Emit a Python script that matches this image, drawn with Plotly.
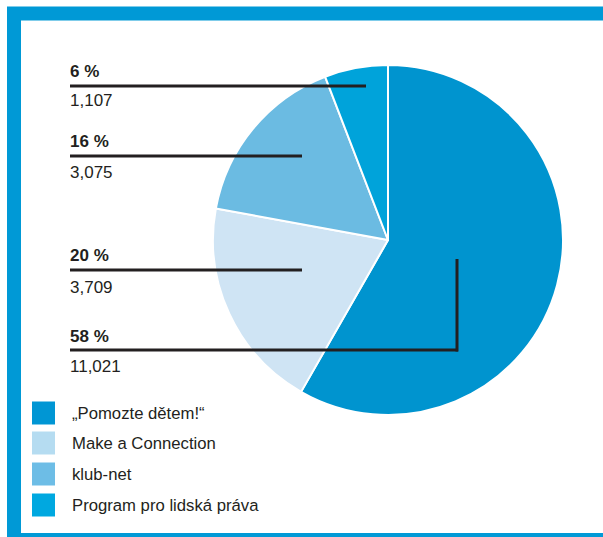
import plotly.graph_objects as go

labels = ["\u201ePomozte d\u011btem!\u201c", "Make a Connection", "klub-net", "Program pro lidsk\u00e1 pr\u00e1va"]
values = [11021, 3709, 3075, 1107]
slice_colors = ["#0094cf", "#cfe4f4", "#6bbbe2", "#00a3da"]
legend_colors = ["#0096d4", "#b5dcf1", "#6dbde6", "#00a8e0"]

W, H = 603, 537
FONT = "Liberation Sans, Arial, Helvetica, sans-serif"

def px(x):
    return x / W

def py(y):
    return 1 - y / H

total = sum(values)
pcts = [round(v * 100 / total) for v in values]

fig = go.Figure()
fig.add_trace(go.Pie(
    labels=labels, values=values, sort=False, direction="clockwise", rotation=0,
    marker=dict(colors=slice_colors, line=dict(color="white", width=2)),
    textinfo="none", hoverinfo="label+value+percent", showlegend=False,
    domain=dict(x=[px(213), px(563)], y=[py(415), py(65)]),
))

shapes = []
annotations = []

# blue frame
shapes.append(dict(type="rect", xref="paper", yref="paper",
                   x0=px(14), x1=px(610), y0=py(540), y1=py(13.5),
                   line=dict(color="#0099d6", width=14), fillcolor="rgba(0,0,0,0)", layer="below"))

# leader lines and labels
label_spec = [
    # (data index, pct y, value y, line y, line end x)
    (3, 71, 100, 86, 366),
    (2, 141, 172, 156, 302),
    (1, 256, 287, 270, 302),
    (0, 336, 366, 350, 458),
]
for idx, ypct, yval, yline, xend in label_spec:
    shapes.append(dict(type="line", xref="paper", yref="paper",
                       x0=px(70), x1=px(xend), y0=py(yline), y1=py(yline),
                       line=dict(color="#231f20", width=3)))
    annotations.append(dict(x=px(68), y=py(ypct), xref="paper", yref="paper",
                            text=f"<b>{pcts[idx]} %</b>", showarrow=False,
                            xanchor="left", yanchor="middle",
                            font=dict(family=FONT, size=17, color="#231f20")))
    annotations.append(dict(x=px(68), y=py(yval), xref="paper", yref="paper",
                            text=f"{values[idx]:,}", showarrow=False,
                            xanchor="left", yanchor="middle",
                            font=dict(family=FONT, size=17, color="#231f20")))

# vertical part of the 58 % leader
shapes.append(dict(type="line", xref="paper", yref="paper",
                   x0=px(457), x1=px(457), y0=py(351.5), y1=py(259),
                   line=dict(color="#231f20", width=3)))

# custom legend
leg_y = [413, 443, 474, 505]
for i, lab in enumerate(labels):
    yc = leg_y[i]
    shapes.append(dict(type="rect", xref="paper", yref="paper",
                       x0=px(32), x1=px(55), y0=py(yc + 11.5), y1=py(yc - 11.5),
                       line=dict(width=0), fillcolor=legend_colors[i]))
    annotations.append(dict(x=px(70), y=py(yc), xref="paper", yref="paper",
                            text=lab, showarrow=False, xanchor="left", yanchor="middle",
                            font=dict(family=FONT, size=16.7, color="#231f20")))

fig.update_layout(
    width=W, height=H, margin=dict(l=0, r=0, t=0, b=0),
    paper_bgcolor="white", plot_bgcolor="white",
    shapes=shapes, annotations=annotations, showlegend=False,
)

fig.write_html("out.html", config={"displayModeBar": False},
               post_script="document.body.style.margin='0';document.body.style.overflow='hidden';")
